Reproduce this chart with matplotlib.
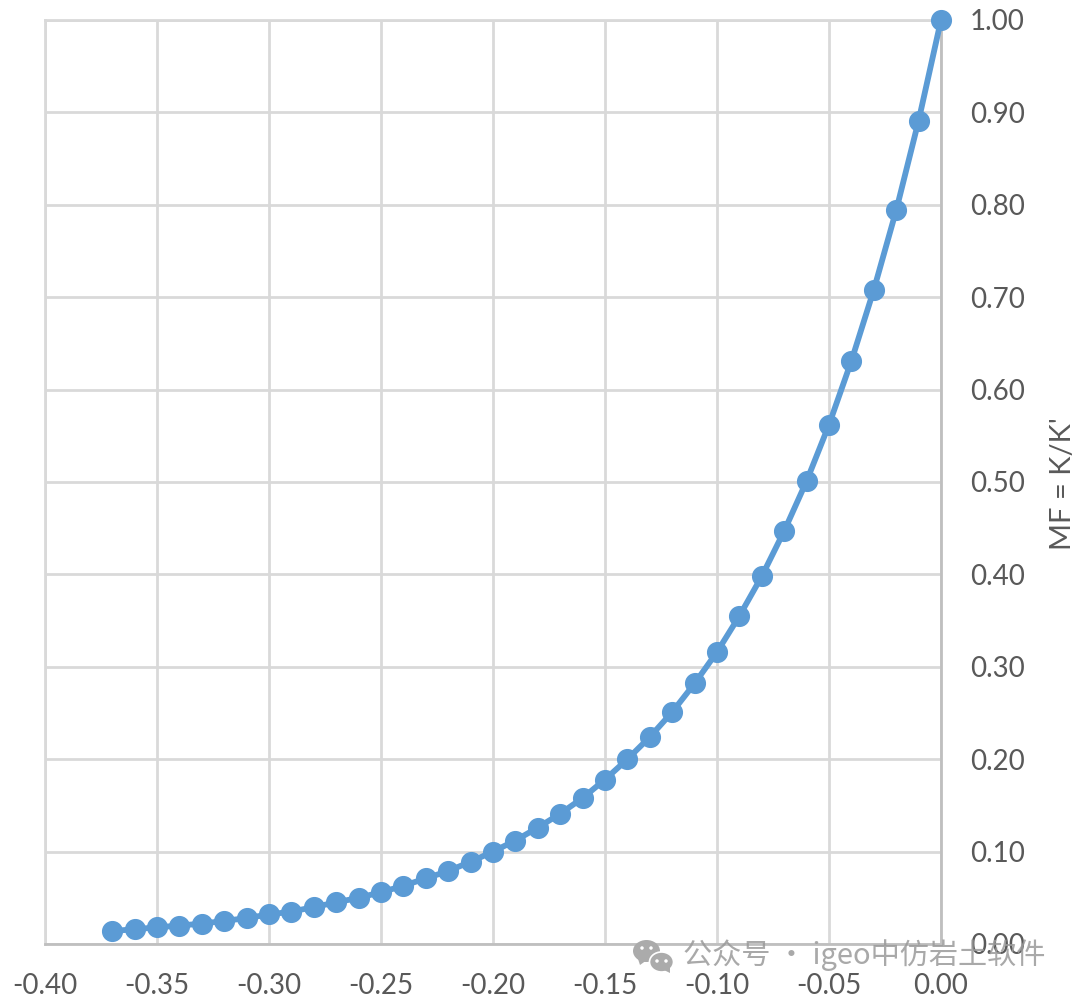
import matplotlib
matplotlib.use('Agg')
import matplotlib.pyplot as plt
from matplotlib.patches import Ellipse, Polygon

plt.rcParams['font.family'] = ['Lato', 'DejaVu Sans']

strain = [0.00, -0.01, -0.02, -0.03, -0.04, -0.05, -0.06, -0.07, -0.08, -0.09,
          -0.10, -0.11, -0.12, -0.13, -0.14, -0.15, -0.16, -0.17, -0.18, -0.19,
          -0.20, -0.21, -0.22, -0.23, -0.24, -0.25, -0.26, -0.27, -0.28, -0.29,
          -0.30, -0.31, -0.32, -0.33, -0.34, -0.35, -0.36, -0.37]
mf = [1.000, 0.891, 0.794, 0.708, 0.631, 0.562, 0.501, 0.447, 0.398, 0.355,
      0.316, 0.282, 0.251, 0.224, 0.200, 0.178, 0.158, 0.141, 0.126, 0.112,
      0.100, 0.089, 0.079, 0.071, 0.063, 0.056, 0.050, 0.045, 0.040, 0.035,
      0.032, 0.028, 0.025, 0.022, 0.020, 0.018, 0.016, 0.014]
x_ticks = [-0.40, -0.35, -0.30, -0.25, -0.20, -0.15, -0.10, -0.05, 0.00]
y_ticks = [0.00, 0.10, 0.20, 0.30, 0.40, 0.50, 0.60, 0.70, 0.80, 0.90, 1.00]

fig = plt.figure(figsize=(10.8, 10), dpi=100)
ax = fig.add_axes([45 / 1080, 1 - 944 / 1000, 896 / 1080, 924 / 1000])

ax.plot(strain, mf, color='#5B9BD5', lw=4.2, marker='o', ms=14.2,
        clip_on=False, zorder=5)

ax.set_xlim(-0.40, 0.00)
ax.set_ylim(0, 1)
ax.set_xticks(x_ticks)
ax.set_xticklabels(['%.2f' % v for v in x_ticks])
ax.set_yticks(y_ticks)
ax.set_yticklabels(['%.2f' % v for v in y_ticks])
ax.yaxis.tick_right()
ax.yaxis.set_label_position('right')
ax.grid(True, color='#D9D9D9', lw=2)
ax.set_axisbelow(True)
ax.tick_params(length=0, labelsize=20, labelcolor='#595959')
ax.tick_params(axis='x', pad=21)
ax.tick_params(axis='y', pad=21)
ax.set_ylabel("MF = K/K'", fontsize=21, color='#595959', labelpad=18, y=0.498)

ax.spines['top'].set_color('#D9D9D9')
ax.spines['left'].set_color('#D9D9D9')
ax.spines['right'].set_color('#BFBFBF')
ax.spines['bottom'].set_color('#BFBFBF')
for s in ax.spines.values():
    s.set_linewidth(2)

# watermark
wm = '#ABABAB'
fig.add_artist(Ellipse((646.5 / 1080, 1 - 951 / 1000), 27 / 1080, 22 / 1000,
                       transform=fig.transFigure, color=wm, lw=0, zorder=10))
fig.add_artist(Polygon([(637 / 1080, 1 - 956 / 1000), (640 / 1080, 1 - 965 / 1000),
                        (647 / 1080, 1 - 960 / 1000)],
                       transform=fig.transFigure, color=wm, lw=0, zorder=10))
fig.add_artist(Ellipse((661.5 / 1080, 1 - 962 / 1000), 24 / 1080, 20 / 1000,
                       transform=fig.transFigure, facecolor=wm, edgecolor='white',
                       lw=1.2, zorder=11))
fig.add_artist(Polygon([(664 / 1080, 1 - 970 / 1000), (670 / 1080, 1 - 973 / 1000),
                        (670 / 1080, 1 - 967 / 1000)],
                       transform=fig.transFigure, color=wm, lw=0, zorder=11))
for ex, ey, ez in [(642, 948, 11), (651, 948, 11), (657, 961, 12), (666, 961, 12)]:
    fig.add_artist(Ellipse((ex / 1080, 1 - ey / 1000), 3.5 / 1080, 3.5 / 1000,
                           transform=fig.transFigure, color='white', lw=0, zorder=ez))
fig.text(683 / 1080, 1 - 955 / 1000, '公众号 · igeo中仿岩土软件', fontsize=21,
         family=['Noto Sans CJK SC', 'DejaVu Sans'], color='#9A9A9A', alpha=0.85,
         va='center', ha='left', zorder=12)

plt.savefig('out.png', dpi=100)
